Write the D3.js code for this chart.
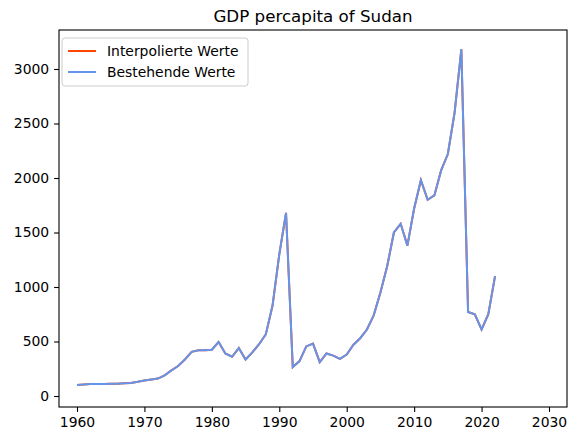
<!DOCTYPE html><html><head><meta charset="utf-8"><script src="https://cdn.jsdelivr.net/npm/d3@7"></script>
<style>body{margin:0;background:#fff}text{font-family:"DejaVu Sans";}</style></head><body><svg id="c" width="578" height="435"></svg>
<script>
const years=d3.range(1960,2023);
const gdp=[100,105,110,110,110,112,112,118,120,130,142,152,160,190,235,275,335,405,420,420,425,495,390,360,440,335,400,475,565,830,1300,1680,265,320,455,480,310,390,370,340,380,470,530,610,740,950,1190,1500,1580,1380,1720,1980,1800,1840,2070,2220,2600,3180,770,750,610,750,1100];
const xTicks=[1960,1970,1980,1990,2000,2010,2020,2030];
const yTicks=[0,500,1000,1500,2000,2500,3000];
const svg=d3.select("#c");
const L=59,R=567,T=30,B=407;
const x=d3.scaleLinear().domain([1960,2030]).range([77,549]);
const y=d3.scaleLinear().domain([0,3000]).range([396,69]);
const line=d3.line().x((d,i)=>x(years[i])).y(d=>y(d));
svg.append("path").datum(gdp).attr("d",line).attr("fill","none").attr("stroke","orangered").attr("stroke-width",2);
svg.append("path").datum(gdp).attr("d",line).attr("fill","none").attr("stroke","cornflowerblue").attr("stroke-width",2);
svg.append("rect").attr("x",L).attr("y",T).attr("width",R-L).attr("height",B-T).attr("fill","none").attr("stroke","#000").attr("stroke-width",1.1);
const ax=svg.append("g").attr("transform",`translate(0,${B})`).call(d3.axisBottom(x).tickValues(xTicks).tickFormat(d3.format("d")).tickSize(4.9).tickPadding(4.9));
const ay=svg.append("g").attr("transform",`translate(${L},0)`).call(d3.axisLeft(y).tickValues(yTicks).tickFormat(d3.format("d")).tickSize(4.9).tickPadding(4.9));
[ax,ay].forEach(a=>{a.select(".domain").remove();a.selectAll("text").attr("font-size",13.9).attr("fill","#000").style("font-family","DejaVu Sans");a.selectAll("line").attr("stroke","#000").attr("stroke-width",1.1);});
svg.append("text").attr("x",(L+R)/2).attr("y",T-8).attr("text-anchor","middle").attr("font-size",16.7).text("GDP percapita of Sudan");
const lg=svg.append("g").attr("transform",`translate(${L+3},${T+8})`);
lg.append("rect").attr("width",186).attr("height",48).attr("rx",3).attr("fill","#fff").attr("stroke","#ccc").attr("stroke-width",1);
[["Interpolierte Werte","orangered"],["Bestehende Werte","cornflowerblue"]].forEach((d,i)=>{
 const yy=13+i*21;
 lg.append("line").attr("x1",6).attr("x2",34).attr("y1",yy).attr("y2",yy).attr("stroke",d[1]).attr("stroke-width",2);
 lg.append("text").attr("x",45).attr("y",yy+5).attr("font-size",13.9).text(d[0]);
});
</script></body></html>
